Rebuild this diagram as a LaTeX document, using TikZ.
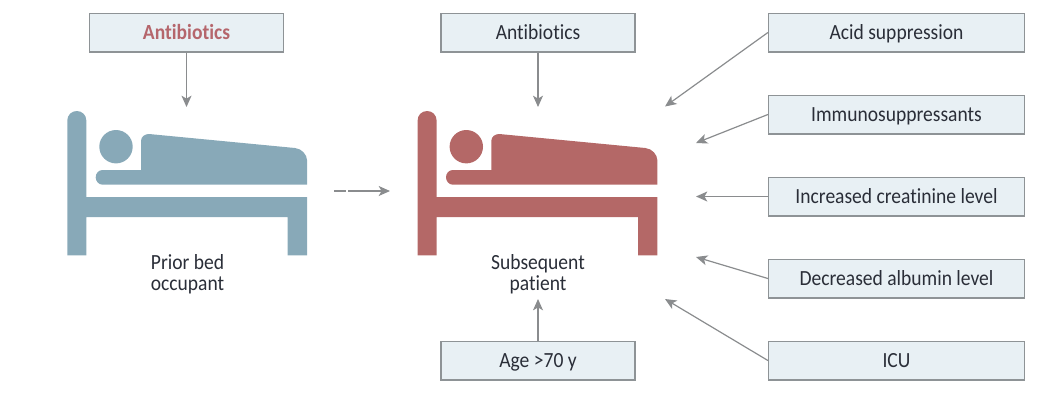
\documentclass[tikz,border=0pt]{standalone}
\usepackage{fontspec}
\setmainfont[FakeStretch=0.905,Ligatures={NoCommon},Contextuals={NoAlternate}]{Carlito}
\usetikzlibrary{arrows.meta}
\definecolor{bedblue}{HTML}{88A9B8}
\definecolor{bedred}{HTML}{B46867}
\definecolor{boxfill}{HTML}{E8F0F4}
\definecolor{boxline}{HTML}{8E9396}
\definecolor{arrowgrey}{HTML}{8A8C8E}
\definecolor{txt}{HTML}{2A2E38}
\definecolor{redtxt}{HTML}{B5666C}
\tikzset{
  factor/.style={draw=boxline,fill=boxfill,line width=1pt,minimum height=29pt,inner sep=0pt,text height=11.2pt,text depth=0pt,text=txt,font=\fontsize{16.2}{18}\selectfont},
  narrowbox/.style={factor,minimum width=145.4pt},
  widebox/.style={factor,minimum width=191.9pt},
  caption/.style={text=txt,align=center,font=\fontsize{16.2}{15.8}\selectfont,inner sep=0pt},
  link/.style={draw=arrowgrey,line width=.9pt,-{Stealth[length=8.5pt,width=7.5pt,inset=2.2pt]}},
  bedicon/.pic={
    \fill (67.3,255.3) -- (67.3,120.5) .. controls (67.3,115) and (71.5,111) .. (76.8,111)
      .. controls (82.1,111) and (86.3,115) .. (86.3,120.5) -- (86.3,197) -- (307,197)
      -- (307,255.3) -- (287.7,255.3) -- (287.7,217) -- (86.3,217) -- (86.3,255.3) -- cycle;
    \fill (141,170) -- (141,141) .. controls (141,136.5) and (145,134) .. (149,134)
      -- (295,148) .. controls (302,148.6) and (307,155) .. (307,160) -- (307,184.7)
      -- (102.5,184.7) .. controls (98.5,184.7) and (95.7,181) .. (95.7,177.3)
      .. controls (95.7,173.5) and (98.5,170) .. (102.5,170) -- cycle;
    \fill (116,146.7) circle[radius=16.7];
  }
}
\begin{document}
\begin{tikzpicture}[x=.75pt,y=-.75pt]
\useasboundingbox (0,0) rectangle (1062,404);
\pic[bedblue] at (0,0) {bedicon};
\pic[bedred] at (350.3,0) {bedicon};

\node[narrowbox,text=redtxt,font=\fontsize{16.2}{18}\selectfont\bfseries] (abx1) at (186.5,32.5) {Antibiotics};
\node[narrowbox] (abx2) at (538,32.5) {Antibiotics};
\node[narrowbox] (age) at (538,360.5) {Age >70 y};
\node[widebox] (acid) at (896.5,32.5) {Acid suppression};
\node[widebox] (immuno) at (896.5,114.5) {Immunosuppressants};
\node[widebox] (creat) at (896.5,196.5) {Increased creatinine level};
\node[widebox] (alb) at (896.5,278.5) {Decreased albumin level};
\node[widebox] (icu) at (896.5,360.5) {ICU};
\node[caption] (prior) at (187.5,274) {Prior bed\\occupant};
\node[caption] (subseq) at (538,274) {Subsequent\\patient};

\coordinate (tipA) at (186.5,107);
\coordinate (tipB) at (538,107);
\coordinate (tipC) at (538,299);
\coordinate (tipD) at (665,106.5);
\coordinate (tipE) at (696,143);
\coordinate (tipF) at (696,196.5);
\coordinate (tipG) at (696,257);
\coordinate (tipH) at (665,299);
\coordinate (transS) at (334.3,191);
\coordinate (transE) at (390,191);

\draw[link] (abx1.south) -- (tipA);
\draw[link] (abx2.south) -- (tipB);
\draw[link] (age.north) -- (tipC);
\draw[link] (acid.west) -- (tipD);
\draw[link] (immuno.west) -- (tipE);
\draw[link] (creat.west) -- (tipF);
\draw[link] (alb.west) -- (tipG);
\draw[link] (icu.west) -- (tipH);
\draw[link,dash pattern=on 8.8pt off 1.6pt on 60pt off 0pt] (transS) -- (transE);
\end{tikzpicture}
\end{document}
